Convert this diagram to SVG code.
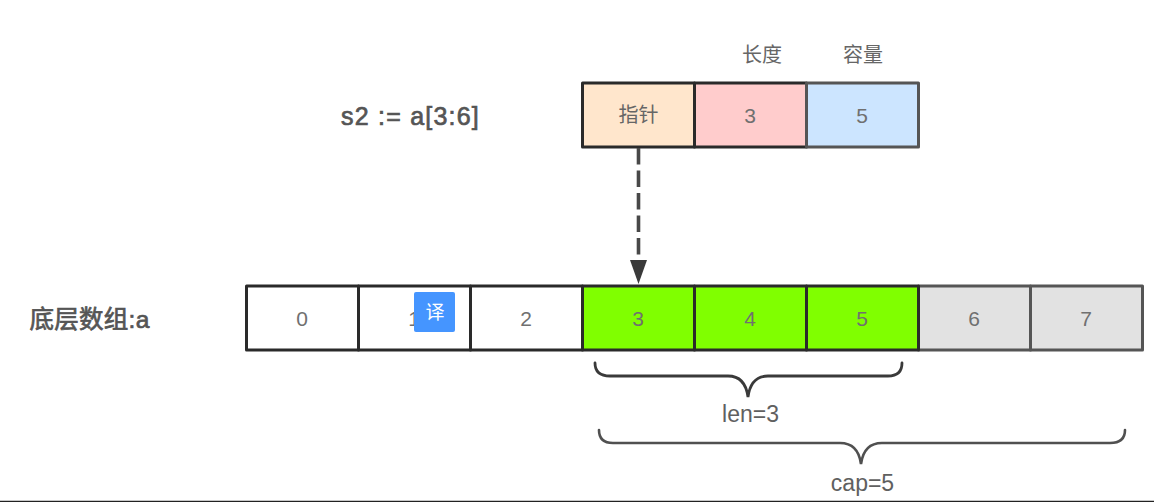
<svg xmlns="http://www.w3.org/2000/svg" width="1154" height="502" viewBox="0 0 1154 502">
<style>
.c{stroke:#2a2a2a;stroke-width:3;stroke-linejoin:round}
.g{stroke:#555;stroke-width:3;stroke-linejoin:round}
text{font-family:"Liberation Sans","Noto Sans CJK SC",sans-serif;text-anchor:middle;fill:#707070;font-size:21px}
.b{font-size:25px;fill:#555;stroke:#555;stroke-width:.7}
.l{font-size:20px;fill:#666}
.n{font-size:23px;fill:#606060}
.br{fill:none;stroke:#3a3a3a;stroke-width:2.8;stroke-linecap:round}
.br2{fill:none;stroke:#505050;stroke-width:2.6;stroke-linecap:round}
</style>
<rect width="1154" height="502" fill="#fff"/>
<g id="label-s2"><text class="b" x="410.500" y="125" style="letter-spacing:1.200px">s2 := a[3:6]</text></g>
<g id="label-a"><text class="b" x="89.500" y="328" style="font-size:24.500px;letter-spacing:.3px">底层数组:a</text></g>
<g id="label-len-head"><text class="l" x="762" y="62">长度</text></g>
<g id="label-cap-head"><text class="l" x="863" y="62">容量</text></g>
<g id="ptr"><rect class="c" x="582.500" y="83" width="112" height="64" fill="#ffe6cc"/><text x="638.500" y="122" style="fill:#666;font-size:20px">指针</text></g>
<g id="len"><rect class="c" x="694.500" y="83" width="112" height="64" fill="#ffcccc"/><text x="750" y="122.500">3</text></g>
<g id="cap"><rect class="g" x="806.500" y="83" width="112" height="64" fill="#cce5ff"/><text x="862" y="122.500">5</text></g>
<g id="cell0"><rect class="c" x="246.500" y="286" width="112" height="64" fill="#fff"/><text x="302" y="326">0</text></g>
<g id="cell1"><rect class="c" x="358.500" y="286" width="112" height="64" fill="#fff"/><text x="414" y="326">1</text></g>
<g id="cell2"><rect class="c" x="470.500" y="286" width="112" height="64" fill="#fff"/><text x="526" y="326">2</text></g>
<g id="cell6"><rect class="g" x="918.500" y="286" width="112" height="64" fill="#e2e2e2"/><text x="974" y="326">6</text></g>
<g id="cell7"><rect class="g" x="1030.500" y="286" width="112" height="64" fill="#e2e2e2"/><text x="1086" y="326">7</text></g>
<g id="cell3"><rect class="c" x="582.500" y="286" width="112" height="64" fill="#80ff00"/><text x="638" y="326">3</text></g>
<g id="cell4"><rect class="c" x="694.500" y="286" width="112" height="64" fill="#80ff00"/><text x="750" y="326">4</text></g>
<g id="cell5"><rect class="c" x="806.500" y="286" width="112" height="64" fill="#80ff00"/><text x="862" y="326">5</text></g>
<g id="connectors">
<line x1="638.500" y1="148" x2="638.500" y2="256" stroke="#484848" stroke-width="3.600" stroke-dasharray="16.500 6"/>
<path d="M630 260H647L638.500 284Z" fill="#3a3a3a"/>
</g>
<g id="brace-len"><path class="br" d="M595 363C595 372 600 376 610 376H728C739 376 746 382 748 397C750 382 757 376 768 376H888C897 376 902 372 902 363"/><text class="n" x="750.500" y="422">len=3</text></g>
<g id="brace-cap"><path class="br2" d="M599 430C599 439 604 443 613 443H840C851 443 859 449 861 464C863 449 871 443 882 443H1110C1119 443 1125 439 1125 430"/><text class="n" x="862.500" y="491">cap=5</text></g>
<g id="translate-badge"><rect x="414" y="292" width="41" height="40" rx="2" fill="#4595ff"/><text x="435" y="319" style="fill:#fff;font-size:19px">译</text></g>
<line x1="0" y1="501.500" x2="1154" y2="501.500" stroke="#222" stroke-width="1.400"/>
</svg>
